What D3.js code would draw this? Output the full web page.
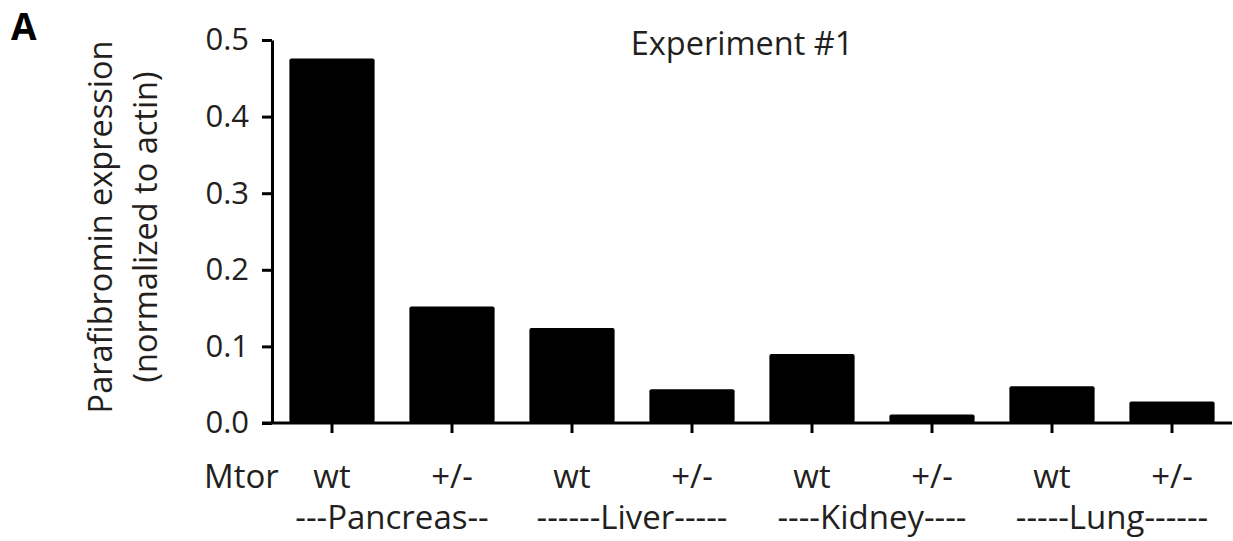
<!DOCTYPE html>
<html>
<head>
<meta charset="utf-8">
<script src="https://cdn.jsdelivr.net/npm/d3@7"></script>
<style>
  body { margin: 0; background: #fff; }
  svg text { font-family: "Open Sans", sans-serif; fill: #231f20; }
</style>
</head>
<body>
<div class="chart"></div>
<script>
// values
var genotypes = ["wt", "+/-", "wt", "+/-", "wt", "+/-", "wt", "+/-"];
var expression = [0.476, 0.152, 0.124, 0.044, 0.090, 0.011, 0.048, 0.028];
var tissues = ["---Pancreas--", "------Liver-----", "----Kidney----", "-----Lung------"];
var yTicks = [0.0, 0.1, 0.2, 0.3, 0.4, 0.5];

var width = 1233, height = 541;

var svg = d3.select(".chart").append("svg")
    .attr("width", width)
    .attr("height", height);

var x = d3.scaleBand()
    .domain(d3.range(expression.length))
    .range([272, 1232])
    .paddingInner(0.29)
    .paddingOuter(0.145);

var y = d3.scaleLinear()
    .domain([0, 0.5])
    .range([423, 40]);

/************* bars ***************/
svg.append("g")
    .selectAll("rect")
    .data(expression)
    .enter().append("rect")
        .attr("x", (d, i) => x(i))
        .attr("y", d => y(d))
        .attr("width", x.bandwidth())
        .attr("height", d => y(0) - y(d))
        .attr("rx", 2)
        .attr("fill", "#000");

/************* y axis ***************/
var yAxis = svg.append("g")
    .attr("transform", "translate(272,0)")
    .call(d3.axisLeft(y).tickValues(yTicks).tickFormat(d3.format(".1f"))
        .tickSize(10).tickSizeOuter(0).tickPadding(13));
yAxis.select(".domain").attr("stroke", "#000").attr("stroke-width", 3);
yAxis.selectAll(".tick line").attr("stroke", "#000").attr("stroke-width", 3);
yAxis.selectAll(".tick text")
    .attr("font-size", 31)
    .attr("font-family", "Open Sans")
    .attr("fill", "#231f20");

/************* x axis ***************/
var xAxis = svg.append("g")
    .attr("transform", "translate(0," + y(0) + ")")
    .call(d3.axisBottom(x).tickSize(10).tickSizeOuter(0).tickFormat(i => genotypes[i]).tickPadding(32));
xAxis.select(".domain").attr("stroke", "#000").attr("stroke-width", 3)
    .attr("d", "M262,0H1232");
xAxis.selectAll(".tick line").attr("stroke", "#000").attr("stroke-width", 3);
xAxis.selectAll(".tick text")
    .attr("font-size", 33)
    .attr("font-family", "Open Sans")
    .attr("fill", "#231f20");

svg.append("text")
    .attr("x", 204)
    .attr("y", 488)
    .attr("font-size", 33)
    .text("Mtor");

// tissue group labels under each pair
svg.append("g")
    .selectAll("text")
    .data(tissues)
    .enter().append("text")
        .attr("x", (d, i) => (x(2 * i) + x(2 * i + 1) + x.bandwidth()) / 2)
        .attr("y", 529)
        .attr("text-anchor", "middle")
        .attr("font-size", 33)
        .text(d => d);

/************* titles ***************/
svg.append("text")
    .attr("transform", "translate(112,227) rotate(-90)")
    .attr("text-anchor", "middle")
    .attr("font-size", 32.5)
    .text("Parafibromin expression");
svg.append("text")
    .attr("transform", "translate(157,227) rotate(-90)")
    .attr("text-anchor", "middle")
    .attr("font-size", 32.5)
    .text("(normalized to actin)");

svg.append("text")
    .attr("x", 742)
    .attr("y", 55)
    .attr("text-anchor", "middle")
    .attr("font-size", 32.5)
    .text("Experiment #1");

svg.append("text")
    .attr("x", 11)
    .attr("y", 40)
    .attr("font-size", 37)
    .attr("font-weight", "bold")
    .style("fill", "#000")
    .text("A");
</script>
</body>
</html>
